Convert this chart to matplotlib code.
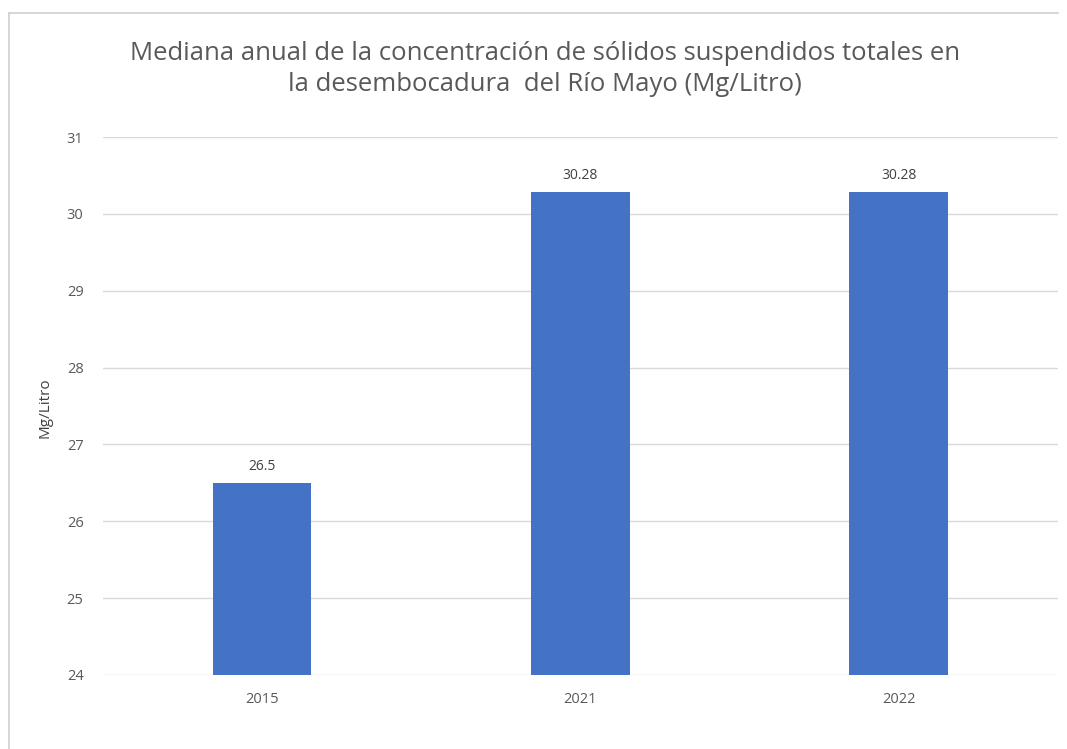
import matplotlib.pyplot as plt

years = ["2015", "2021", "2022"]
values = [26.5, 30.28, 30.28]
value_labels = ["26.5", "30.28", "30.28"]
yticks = [24, 25, 26, 27, 28, 29, 30, 31]

plt.rcParams["font.family"] = ["Open Sans", "DejaVu Sans"]

fig = plt.figure(figsize=(10.67, 7.49), dpi=100)
ax = fig.add_axes([0.0965, 0.0988, 0.895, 0.7182])

x = range(len(years))
ax.bar(x, [v - 24 for v in values], bottom=24, width=0.31, color="#4472C4", zorder=3)

for xi, v, lab in zip(x, values, value_labels):
    ax.text(xi, v + 0.12, lab, ha="center", va="bottom", fontsize=10, color="#404040")

ax.set_xlim(-0.5, 2.5)
ax.set_ylim(24, 31)
ax.set_yticks(yticks)
ax.set_xticks(list(x))
ax.set_xticklabels(years)
ax.tick_params(axis="both", length=0, labelsize=10.5, labelcolor="#595959")
ax.tick_params(axis="y", pad=14)
ax.tick_params(axis="x", pad=12)
ax.grid(axis="y", color="#D9D9D9", linewidth=1, zorder=0)
for s in ax.spines.values():
    s.set_visible(False)

fig.text(45 / 1067, 1 - 408 / 749, "Mg/Litro", rotation=90, ha="center", va="center",
         fontsize=11, color="#404040")

fig.text(0.511, 0.908,
         "Mediana anual de la concentración de sólidos suspendidos totales en\nla desembocadura  del Río Mayo (Mg/Litro)",
         ha="center", va="center", fontsize=18.5, color="#595959", linespacing=1.35)

# chart border (top and left)
fig.add_artist(plt.Line2D([9 / 1067, 1058 / 1067], [1 - 13 / 749, 1 - 13 / 749],
                          color="#D0D0D0", linewidth=1.2, transform=fig.transFigure))
fig.add_artist(plt.Line2D([9 / 1067, 9 / 1067], [0, 1 - 13 / 749],
                          color="#D0D0D0", linewidth=1.2, transform=fig.transFigure))

fig.savefig("out.png", dpi=100)
